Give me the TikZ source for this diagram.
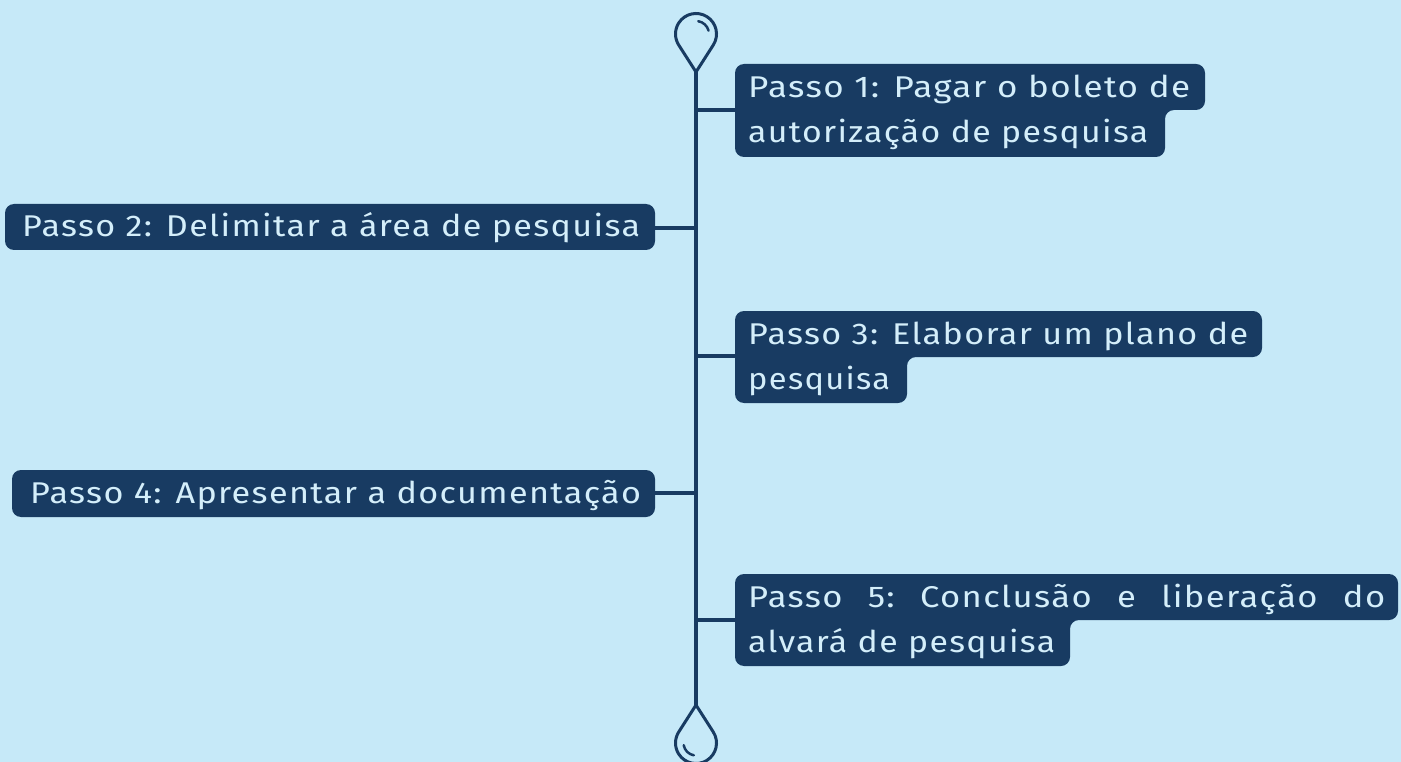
\documentclass[tikz,border=0pt]{standalone}
\usepackage{fontspec}
\usepackage{graphicx}
\setmainfont[LetterSpace=4]{Fira Sans}
\definecolor{bgc}{HTML}{C6E9F8}
\definecolor{navy}{HTML}{183B62}
\definecolor{txt}{HTML}{D4EEFA}
\newlength\fitw
\newcommand\fitto[2]{\settowidth\fitw{#2}\pgfmathsetmacro\fitr{#1/\fitw}\scalebox{\fitr}[1]{#2}}
\tikzset{
  hl/.style={fill=navy, rounded corners=9pt},
  wire/.style={draw=navy, line width=3.5pt},
  pin/.style={draw=navy, line width=3pt, line join=miter},
  shine/.style={draw=navy, line width=2.5pt, line cap=round},
  lbl/.style={anchor=base west, inner sep=0pt, text=txt, font=\fontsize{30}{34}\selectfont},
}
\begin{document}
\begin{tikzpicture}[x=1pt,y=-1pt]
\fill[bgc] (0,0) rectangle (1401,762);
\useasboundingbox (0,0) rectangle (1401,762);

% pins
\coordinate (ttip) at (696,72);
\coordinate (btip) at (696,705);
\draw[pin] (ttip) -- (713.27,45.04) arc[start angle=32.6, end angle=-212.6, radius=20.5] -- cycle;
\draw[shine] (696,34) ++(-80:13) arc[start angle=-80, end angle=-15, radius=13];
\draw[pin] (btip) -- (713.27,731.96) arc[start angle=-32.6, end angle=212.6, radius=20.5] -- cycle;
\draw[shine] (696,743) ++(170:12.5) arc[start angle=170, end angle=100, radius=12.5];

% branch points on the spine
\coordinate (j1) at (696,110);
\coordinate (j2) at (696,228);
\coordinate (j3) at (696,356);
\coordinate (j4) at (696,493);
\coordinate (j5) at (696,620);
\draw[wire] (ttip) -- (btip);

% boxes
\fill[hl] (735,110) |- (1205,64) |- (1165,110) |- (735,157) -- cycle;
\fill[hl] (5,204) rectangle (655,250);
\fill[hl] (735,357) |- (1262,311) |- (907,357) |- (735,403) -- cycle;
\fill[hl] (12,470) rectangle (655,517);
\fill[hl] (735,620) |- (1398,574) |- (1070,620) |- (735,666) -- cycle;

\coordinate (b1) at (735,110);
\coordinate (b2) at (655,228);
\coordinate (b3) at (735,356);
\coordinate (b4) at (655,493);
\coordinate (b5) at (735,620);
\draw[wire] (j1) -- (b1);
\draw[wire] (j2) -- (b2);
\draw[wire] (j3) -- (b3);
\draw[wire] (j4) -- (b4);
\draw[wire] (j5) -- (b5);

% texts
\node[lbl] (t1a) at (748,98) {\fitto{442}{Passo 1: Pagar o boleto de}};
\node[lbl] (t1b) at (748,143) {\fitto{400}{autorização de pesquisa}};
\node[lbl] (t2) at (22,237) {\fitto{618}{Passo 2: Delimitar a área de pesquisa}};
\node[lbl] (t3a) at (748,344) {\fitto{500}{Passo 3: Elaborar um plano de}};
\node[lbl] (t3b) at (748,389) {\fitto{142}{pesquisa}};
\node[lbl] (t4) at (30,503) {\fitto{611}{Passo 4: Apresentar a documentação}};
\node[lbl] (t5a) at (748,607) {\fitto{637}{Passo\hspace{22pt}5:\hspace{22pt}Conclusão\hspace{22pt}e\hspace{22pt}liberação\hspace{22pt}do}};
\node[lbl] (t5b) at (748,652) {\fitto{307}{alvará de pesquisa}};
\end{tikzpicture}
\end{document}
